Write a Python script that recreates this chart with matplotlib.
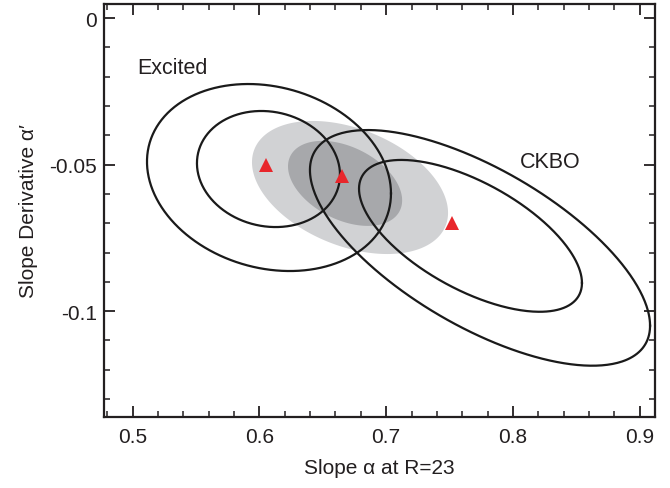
import numpy as np
import matplotlib
matplotlib.use("Agg")
import matplotlib.pyplot as plt
from matplotlib.ticker import MultipleLocator

plt.rcParams['font.family'] = ['Liberation Sans', 'DejaVu Sans']

# Ellipse descriptions: center x, center y, half x-extent, half y-extent, correlation
ellipse_names = ["shade_light", "shade_dark", "excited_outer", "excited_inner", "ckbo_outer", "ckbo_inner"]
ell_cx = [0.6715, 0.6676, 0.6076, 0.6072, 0.7740, 0.7665]
ell_cy = [-0.0578, -0.0564, -0.0544, -0.0515, -0.0784, -0.0743]
ell_ax = [0.0773, 0.0450, 0.0962, 0.0564, 0.1341, 0.0879]
ell_ay = [0.0227, 0.0145, 0.0319, 0.0198, 0.0402, 0.0259]
ell_rho = [-0.38, -0.40, -0.17, -0.10, -0.66, -0.62]

# best-fit points (triangles)
pt_x = [0.605, 0.665, 0.752]
pt_y = [-0.050, -0.054, -0.070]

labels = ["Excited", "CKBO"]
label_x = [0.5035, 0.8056]
label_y = [-0.0167, -0.0488]

xticks = [0.5, 0.6, 0.7, 0.8, 0.9]
yticks = [0.0, -0.05, -0.1]
yticklabels = ["0", "-0.05", "-0.1"]


def ellipse_curve(i, n=400):
    t = np.linspace(0, 2 * np.pi, n)
    phi = np.arccos(ell_rho[i])
    x = ell_cx[i] + ell_ax[i] * np.cos(t)
    y = ell_cy[i] + ell_ay[i] * np.cos(t - phi)
    return x, y


fig = plt.figure(figsize=(6.7, 4.89), dpi=100)
ax = fig.add_axes([104 / 670, 1 - 418 / 489, 551 / 670, 413 / 489])

light = "#d1d2d4"
dark = "#a7a8ab"
x, y = ellipse_curve(0)
ax.fill(x, y, color=light, lw=0, zorder=1)
x, y = ellipse_curve(1)
ax.fill(x, y, color=dark, lw=0, zorder=2)

for i in range(2, 6):
    x, y = ellipse_curve(i)
    ax.plot(x, y, color="#1a1a1a", lw=1.6, zorder=3)

ax.plot(pt_x, pt_y, linestyle="none", marker="^", ms=10, color="#e8262b",
        markeredgewidth=0, zorder=4)

for s, lx, ly in zip(labels, label_x, label_y):
    ax.text(lx, ly, s, fontsize=15.5, ha="left", va="center", color="#231f20")

ax.set_xlim(0.4775, 0.912)
ax.set_ylim(-0.1361, 0.0048)
ax.set_xticks(xticks)
ax.set_xticklabels([f"{v:.1f}" for v in xticks])
ax.set_yticks(yticks)
ax.set_yticklabels(yticklabels)
ax.xaxis.set_minor_locator(MultipleLocator(0.02))
ax.yaxis.set_minor_locator(MultipleLocator(0.01))
ax.tick_params(which="both", direction="in", top=True, right=True, color="#231f20",
               labelsize=15, labelcolor="#231f20")
ax.tick_params(which="major", length=8, width=1.3)
ax.tick_params(which="minor", length=4.5, width=1.1)
ax.tick_params(axis="x", which="major", pad=7)
ax.tick_params(axis="y", which="major", pad=5)
for sp in ax.spines.values():
    sp.set_linewidth(1.6)
    sp.set_color("#231f20")

ax.set_xlabel("Slope α at R=23", fontsize=15, color="#231f20", labelpad=9)
ax.set_ylabel("Slope Derivative α′", fontsize=15, color="#231f20", labelpad=8)

fig.savefig("out.png", dpi=100)
